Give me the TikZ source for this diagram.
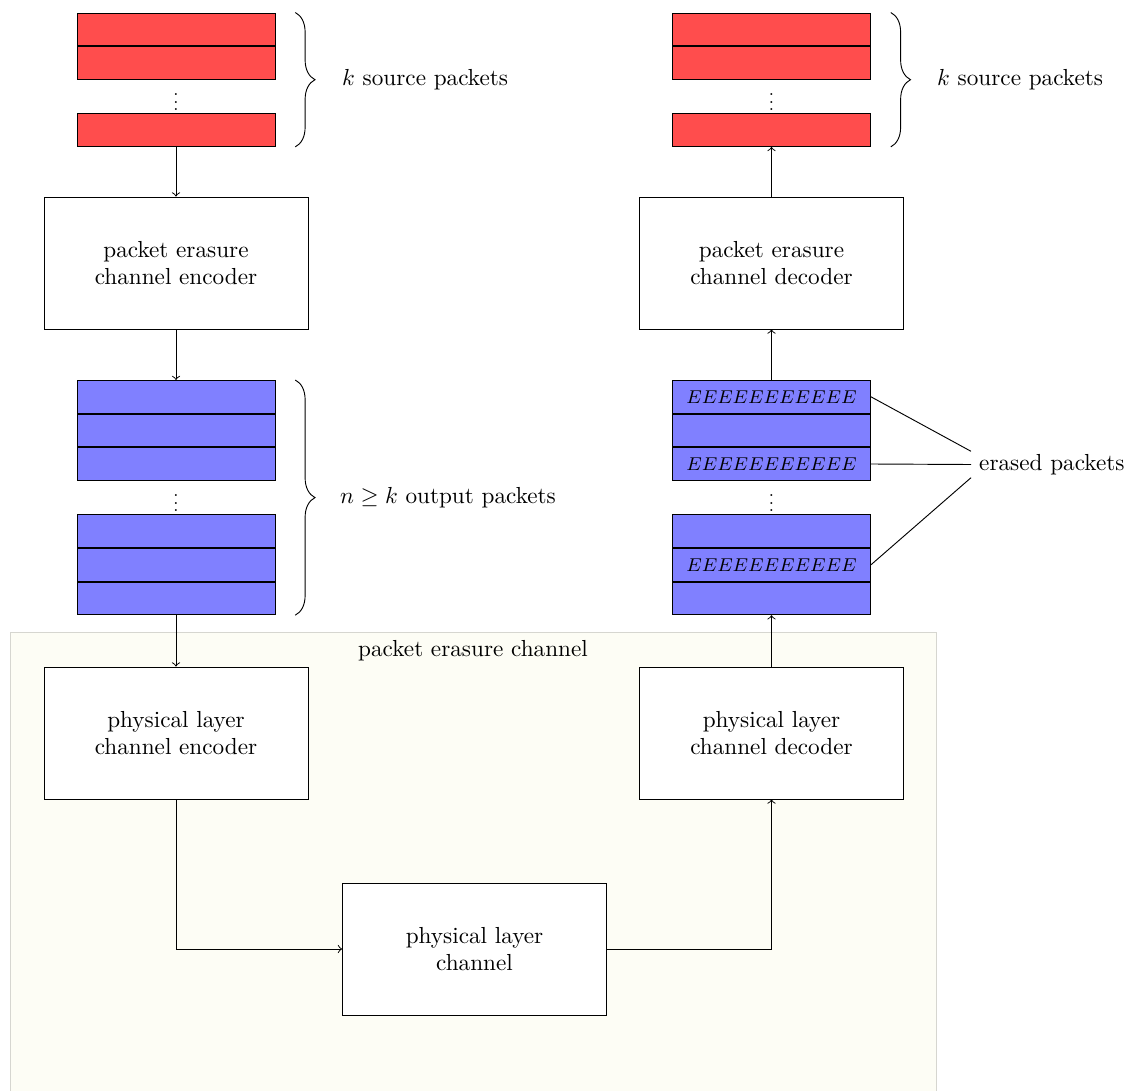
\documentclass[tikz,border=0pt]{standalone}
\usepackage{graphicx}
\usetikzlibrary{decorations.pathreplacing,positioning}
\definecolor{pktred}{RGB}{255,77,77}
\definecolor{pktblue}{RGB}{128,128,255}
\definecolor{bgfill}{RGB}{253,253,245}
\definecolor{bgline}{RGB}{214,214,208}
\newcommand{\pktdots}{\scalebox{0.8}{$\vdots$}}
\newcommand{\Erow}{$EEEEEEEEEEE$}
\begin{document}
\begin{tikzpicture}[x=0.0151515cm,y=-0.0151515cm,
  redpkt/.style={draw, fill=pktred, minimum width=3cm, minimum height=0.495cm, inner sep=0pt},
  bluepkt/.style={draw, fill=pktblue, minimum width=3cm, minimum height=0.495cm, inner sep=0pt, font=\footnotesize},
  dotrow/.style={minimum width=3cm, minimum height=0.495cm, inner sep=0pt},
  procbox/.style={draw, fill=white, minimum width=4cm, minimum height=2cm, align=center},
  arr/.style={->},
  brc/.style={decorate, decoration={brace, amplitude=8.5pt}},
  lbl/.style={anchor=west}
]
\useasboundingbox (0,0) rectangle (1132,1091);

% background of the packet erasure channel
\fill[bgfill, draw=bgline] (10,632) rectangle (936,1120);
\node[anchor=north] (pecl) at (473,632) {packet erasure channel};

% left: source packets
\node[redpkt] (lr1) at (176,29.3) {};
\node[redpkt, below=0pt of lr1] (lr2) {};
\node[dotrow, below=0pt of lr2] (lr3) {\pktdots};
\node[redpkt, below=0pt of lr3] (lr4) {};

\node[procbox] (enc) at (176,263) {packet erasure\\channel encoder};

% left: output packets
\node[bluepkt] (lb1) at (176,396.8) {};
\node[bluepkt, below=0pt of lb1] (lb2) {};
\node[bluepkt, below=0pt of lb2] (lb3) {};
\node[dotrow, below=0pt of lb3] (lb4) {\pktdots};
\node[bluepkt, below=0pt of lb4] (lb5) {};
\node[bluepkt, below=0pt of lb5] (lb6) {};
\node[bluepkt, below=0pt of lb6] (lb7) {};

\node[procbox] (penc) at (176,733) {physical layer\\channel encoder};
\node[procbox] (chan) at (474.5,949) {physical layer\\channel};
\node[procbox] (pdec) at (771.5,733) {physical layer\\channel decoder};

% right: received packets
\node[bluepkt] (rb1) at (771.5,396.8) {\Erow};
\node[bluepkt, below=0pt of rb1] (rb2) {};
\node[bluepkt, below=0pt of rb2] (rb3) {\Erow};
\node[dotrow, below=0pt of rb3] (rb4) {\pktdots};
\node[bluepkt, below=0pt of rb4] (rb5) {};
\node[bluepkt, below=0pt of rb5] (rb6) {\Erow};
\node[bluepkt, below=0pt of rb6] (rb7) {};

\node[procbox] (dec) at (771.5,263) {packet erasure\\channel decoder};

% right: decoded source packets
\node[redpkt] (rr1) at (771.5,29.3) {};
\node[redpkt, below=0pt of rr1] (rr2) {};
\node[dotrow, below=0pt of rr2] (rr3) {\pktdots};
\node[redpkt, below=0pt of rr3] (rr4) {};

% braces and labels
\draw[brc] ([xshift=0.3cm]lr1.north east) -- ([xshift=0.3cm]lr4.south east);
\node[lbl] (lk) at (334,79.7) {$k$ source packets};
\draw[brc] ([xshift=0.3cm]lb1.north east) -- ([xshift=0.3cm]lb7.south east);
\node[lbl] (ln) at (332,497.5) {$n \geq k$ output packets};
\draw[brc] ([xshift=0.3cm]rr1.north east) -- ([xshift=0.3cm]rr4.south east);
\node[lbl] (rk) at (929,79.7) {$k$ source packets};

% erased packets
\node[lbl] (erased) at (971,464.5) {erased packets};
\draw (rb1.east) -- ([yshift=0.2cm]erased.west);
\draw (rb3.east) -- (erased.west);
\draw (rb6.east) -- ([yshift=-0.2cm]erased.west);

% connectors
\draw[arr] (lr4.south) -- (enc.north);
\draw[arr] (enc.south) -- (lb1.north);
\draw[arr] (lb7.south) -- (penc.north);
\draw[arr] (penc.south) |- (chan.west);
\draw[arr] (chan.east) -| (pdec.south);
\draw[arr] (pdec.north) -- (rb7.south);
\draw[arr] (rb1.north) -- (dec.south);
\draw[arr] (dec.north) -- (rr4.south);
\end{tikzpicture}
\end{document}
